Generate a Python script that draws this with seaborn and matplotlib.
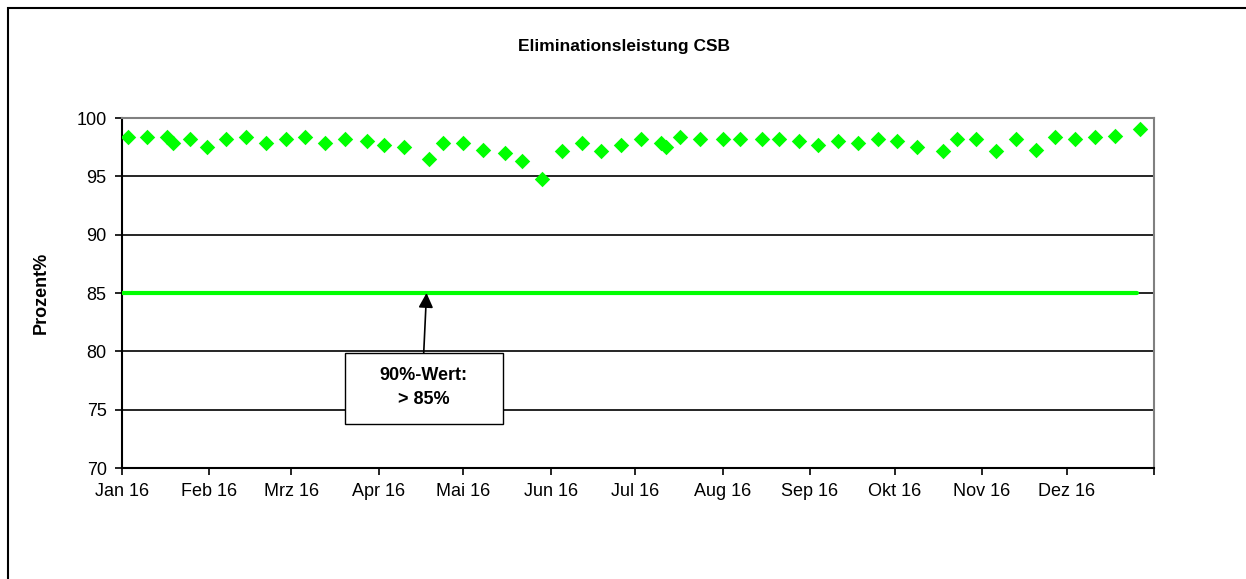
import matplotlib
matplotlib.use("Agg")
import matplotlib.pyplot as plt
import matplotlib.dates as mdates
from matplotlib.patches import Rectangle
import pandas as pd
import seaborn as sns

# weekly CSB elimination values (percent)
dates = [
    "2016-01-03", "2016-01-10", "2016-01-17", "2016-01-19", "2016-01-25", "2016-01-31",
    "2016-02-07", "2016-02-14", "2016-02-21", "2016-02-28", "2016-03-06", "2016-03-13",
    "2016-03-20", "2016-03-28", "2016-04-03", "2016-04-10", "2016-04-19", "2016-04-24",
    "2016-05-01", "2016-05-08", "2016-05-16", "2016-05-22", "2016-05-29", "2016-06-05",
    "2016-06-12", "2016-06-19", "2016-06-26", "2016-07-03", "2016-07-10", "2016-07-12",
    "2016-07-17", "2016-07-24", "2016-08-01", "2016-08-07", "2016-08-15", "2016-08-21",
    "2016-08-28", "2016-09-04", "2016-09-11", "2016-09-18", "2016-09-25", "2016-10-02",
    "2016-10-09", "2016-10-18", "2016-10-23", "2016-10-30", "2016-11-06", "2016-11-13",
    "2016-11-20", "2016-11-27", "2016-12-04", "2016-12-11", "2016-12-18", "2016-12-27",
]
values = [
    98.4, 98.4, 98.4, 97.9, 98.2, 97.5,
    98.2, 98.4, 97.9, 98.2, 98.4, 97.9,
    98.2, 98.0, 97.7, 97.5, 96.5, 97.9,
    97.9, 97.3, 97.0, 96.3, 94.8, 97.2,
    97.9, 97.2, 97.7, 98.2, 97.9, 97.5,
    98.4, 98.2, 98.2, 98.2, 98.2, 98.2,
    98.0, 97.7, 98.0, 97.9, 98.2, 98.0,
    97.5, 97.2, 98.2, 98.2, 97.2, 98.2,
    97.3, 98.4, 98.2, 98.4, 98.5, 99.1,
]

# 90%-value limit line
limit_dates = ["2016-01-01", "2016-12-26"]
limit_values = [85, 85]

month_ticks = pd.date_range("2016-01-01", "2017-01-01", freq="MS")
month_labels = ["Jan 16", "Feb 16", "Mrz 16", "Apr 16", "Mai 16", "Jun 16",
                "Jul 16", "Aug 16", "Sep 16", "Okt 16", "Nov 16", "Dez 16", ""]

df = pd.DataFrame({"datum": pd.to_datetime(dates), "prozent": values})
limit_df = pd.DataFrame({"datum": pd.to_datetime(limit_dates), "prozent": limit_values})

sns.set_style("white")
plt.rcParams["font.family"] = ["Liberation Sans", "DejaVu Sans"]
plt.rcParams["text.color"] = "black"
plt.rcParams["axes.labelcolor"] = "black"
plt.rcParams["xtick.color"] = "black"
plt.rcParams["ytick.color"] = "black"

fig = plt.figure(figsize=(12.46, 5.79), dpi=100)
ax = fig.add_axes([122 / 1246, 1 - 468 / 579, (1154 - 122) / 1246, 350 / 579])

for y in [75, 80, 85, 90, 95]:
    ax.axhline(y, color="black", lw=1.2, zorder=1)

sns.lineplot(data=limit_df, x="datum", y="prozent", color="#00ff00", lw=3.0, ax=ax, zorder=3)
sns.scatterplot(data=df, x="datum", y="prozent", marker="D", s=62, color="#00ff00",
                linewidth=0, ax=ax, zorder=4)

ax.set_ylim(70, 100)
ax.set_yticks(range(70, 101, 5))
ax.set_xlim(pd.Timestamp("2016-01-01"), pd.Timestamp("2017-01-01"))
ax.set_xticks(month_ticks)
ax.set_xticklabels(month_labels)
ax.tick_params(axis="both", labelsize=13, direction="out", length=5, width=1.2,
               color="black", pad=6, bottom=True, left=True)

ax.set_xlabel("")
ax.set_ylabel("Prozent%", fontsize=13, fontweight="bold", labelpad=19)
fig.text(624 / 1246, 1 - 47 / 579, "Eliminationsleistung CSB", fontsize=12.5,
         fontweight="bold", ha="center", va="center")

for side in ["left", "bottom"]:
    ax.spines[side].set_color("black")
    ax.spines[side].set_linewidth(1.5)
for side in ["top", "right"]:
    ax.spines[side].set_color("#808080")
    ax.spines[side].set_linewidth(1.5)

# annotation box
box_x0 = mdates.date2num(pd.Timestamp("2016-03-20"))
box_x1 = mdates.date2num(pd.Timestamp("2016-05-15"))
ax.add_patch(Rectangle((box_x0, 73.8), box_x1 - box_x0, 6.05, facecolor="white",
                       edgecolor="black", lw=1.0, zorder=5))
box_mid = (box_x0 + box_x1) / 2
ax.text(box_mid, 76.9, "90%-Wert:\n> 85%", ha="center", va="center", fontsize=13,
        fontweight="bold", linespacing=1.6, zorder=6)
ax.annotate("", xy=(box_mid + 1, 85.0), xytext=(box_mid, 79.85),
            arrowprops=dict(arrowstyle="-|>", color="black", lw=1.2,
                            mutation_scale=22, shrinkA=0, shrinkB=0), zorder=6)

# chart area frame
fig.patches.append(Rectangle((8 / 1246, -0.05), 1.1, 1 - 8 / 579 + 0.05, transform=fig.transFigure,
                             fill=False, edgecolor="black", lw=1.5))

fig.savefig("out.png", dpi=100)
